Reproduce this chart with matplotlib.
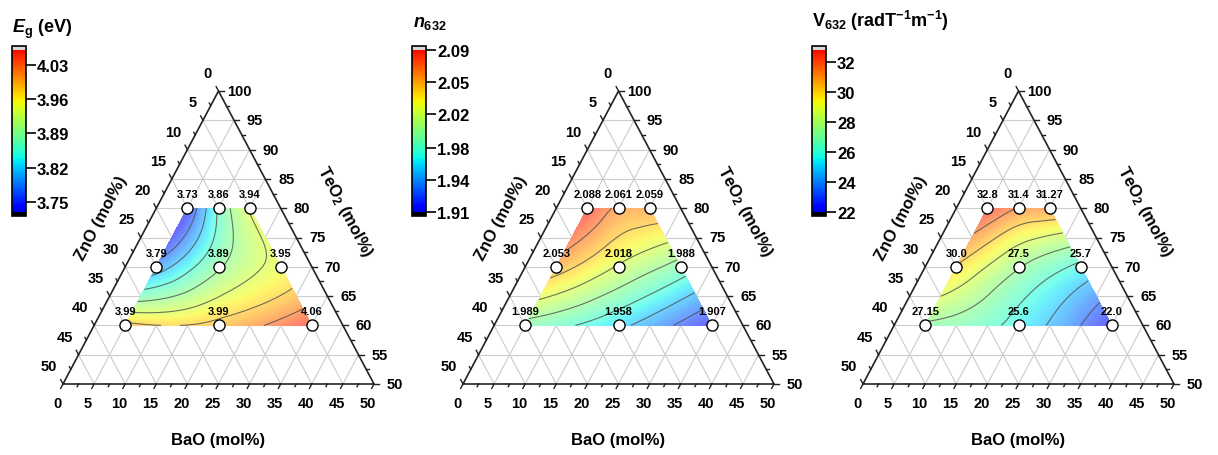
import numpy as np
import matplotlib
matplotlib.use("Agg")
import matplotlib.pyplot as plt
import matplotlib.tri as mtri
from matplotlib.colors import ListedColormap, Normalize
from matplotlib.cm import ScalarMappable

plt.rcParams['font.family'] = ['Liberation Sans', 'DejaVu Sans']
plt.rcParams['font.weight'] = 'bold'
plt.rcParams['mathtext.fontset'] = 'custom'
plt.rcParams['mathtext.rm'] = 'Liberation Sans:bold'
plt.rcParams['mathtext.it'] = 'Liberation Sans:bold:italic'
plt.rcParams['mathtext.bf'] = 'Liberation Sans:bold'

# glass compositions (mol%)
teo2 = [80, 80, 80, 70, 70, 70, 60, 60, 60]
bao = [5, 10, 15, 5, 15, 25, 5, 20, 35]
zno = [15, 10, 5, 25, 15, 5, 35, 20, 5]

# measured values, as printed next to the points
eg_txt = ['3.73', '3.86', '3.94', '3.79', '3.89', '3.95', '3.99', '3.99', '4.06']
n632_txt = ['2.088', '2.061', '2.059', '2.053', '2.018', '1.988', '1.989', '1.958', '1.907']
v632_txt = ['32.8', '31.4', '31.27', '30.0', '27.5', '25.7', '27.15', '25.6', '22.0']

eg_ticks = [3.75, 3.82, 3.89, 3.96, 4.03]
n632_ticks = [1.907, 1.943, 1.979, 2.016, 2.052, 2.088]
v632_ticks = [22, 24, 26, 28, 30, 32]

titles = [r'$E_\mathrm{g}$ (eV)', r'$n_{632}$', r'V$_{632}$ (radT$^{-1}$m$^{-1}$)']
title_pos = [(12, 33), (413, 27), (812, 27)]

jet = plt.get_cmap('jet')
base = jet(np.linspace(0.1, 0.9, 256))
cmap_bar = ListedColormap(base)
cmap_bar.set_over('#d8d8d8')
cmap_bar.set_under('#000000')
soft = base.copy()
soft[:, :3] = 0.58 * base[:, :3] + 0.42
cmap_fill = ListedColormap(soft)

W, H = 1218, 456


def tern(b, t):
    b = np.asarray(b, float)
    t = np.asarray(t, float)
    return b + (t - 50) / 2, t - 50


def panel(i, txt, ticks, fmt, title, tpos):
    vals = np.array([float(s) for s in txt])
    ax = fig.add_axes([(63 + 400 * i) / W, (H - 385) / H, 311 / W, 293 / H])
    ax.set_xlim(0, 50)
    ax.set_ylim(0, 50)
    ax.axis('off')

    # grid
    for v in range(5, 50, 5):
        x, y = tern([0, 50 - v], [50 + v, 50 + v])
        ax.plot(x, y, color='#cccccc', lw=0.8, zorder=1)
        x, y = tern([v, v], [50, 100 - v])
        ax.plot(x, y, color='#cccccc', lw=0.8, zorder=1)
        x, y = tern([0, 50 - v], [100 - v, 50])
        ax.plot(x, y, color='#cccccc', lw=0.8, zorder=1)

    # filled map
    x, y = tern(bao, teo2)
    tri = mtri.Triangulation(x, y)
    refiner = mtri.UniformTriRefiner(tri)
    tri_f, z_f = refiner.refine_field(vals, subdiv=4)
    vmin, vmax = vals.min(), vals.max()
    norm = Normalize(vmin, vmax)
    ax.tricontourf(tri_f, z_f, levels=np.linspace(vmin, vmax, 80), cmap=cmap_fill,
                   norm=norm, extend='both', zorder=2)
    ax.tricontour(tri_f, z_f, levels=np.linspace(vmin, vmax, 9)[1:-1],
                  colors='#505050', linewidths=0.8, alpha=0.8, zorder=3)

    # frame
    x, y = tern([0, 50, 0, 0], [50, 50, 100, 50])
    ax.plot(x, y, color='#222222', lw=1.2, zorder=4, clip_on=False)

    # ticks and labels
    for v in np.arange(0, 50.1, 2.5):
        k = 0.75 if v % 5 == 0 else 0.45
        # BaO (bottom)
        ax.plot([v, v - 0.5 * k], [0, -k], color='#222222', lw=1, clip_on=False)
        # TeO2 (right)
        t = 50 + v
        xr, yr = tern(100 - t, t)
        ax.plot([xr, xr + k * 1.1], [yr, yr], color='#222222', lw=1, clip_on=False)
        # ZnO (left)
        xl, yl = tern(0, 100 - v)
        ax.plot([xl, xl - 0.5 * k], [yl, yl + k], color='#222222', lw=1, clip_on=False)
        if v % 5 == 0:
            lab = '%d' % v
            ax.annotate(lab, (v, 0), xytext=(-6, -19), textcoords='offset pixels',
                        ha='center', va='center', fontsize=10.5)
            ax.annotate('%d' % t, (xr, yr), xytext=(21, 0), textcoords='offset pixels',
                        ha='center', va='center', fontsize=10.5)
            ax.annotate(lab, (xl, yl), xytext=(-7 - 3.5 * len(lab), 18),
                        textcoords='offset pixels', ha='center', va='center', fontsize=10.5)

    ax.text(6.1, 28.5, 'ZnO (mol%)', rotation=62, ha='center', va='center', fontsize=12)
    ax.text(45.3, 29.5, 'TeO$_2$ (mol%)', rotation=-62, ha='center', va='center', fontsize=12)
    ax.text(25, -9.4, 'BaO (mol%)', ha='center', va='center', fontsize=12)

    # data points
    x, y = tern(bao, teo2)
    ax.plot(x, y, 'o', ms=8, mfc='white', mec='black', mew=1, zorder=6, clip_on=False)
    for xi, yi, s in zip(x, y, txt):
        ax.annotate(s, (xi, yi), xytext=(0, 14), textcoords='offset pixels',
                    ha='center', va='center', fontsize=8, zorder=7)

    # colour bar
    cax = fig.add_axes([(12 + 400 * i) / W, (H - 217) / H, 14 / W, 170 / H])
    sm = ScalarMappable(norm=norm, cmap=cmap_bar)
    cb = fig.colorbar(sm, cax=cax, extend='both', extendrect=True, extendfrac=0.025)
    cb.set_ticks(ticks)
    cb.set_ticklabels([fmt % t for t in ticks])
    cb.ax.tick_params(length=7, width=1.2, labelsize=12, pad=1)
    cb.outline.set_linewidth(1.2)
    fig.text(tpos[0] / W, 1 - tpos[1] / H, title, fontsize=13, ha='left', va='baseline')


fig = plt.figure(figsize=(W / 100, H / 100), dpi=100)
panel(0, eg_txt, eg_ticks, '%.2f', titles[0], title_pos[0])
panel(1, n632_txt, n632_ticks, '%.2f', titles[1], title_pos[1])
panel(2, v632_txt, v632_ticks, '%d', titles[2], title_pos[2])
fig.savefig('out.png', dpi=100)
